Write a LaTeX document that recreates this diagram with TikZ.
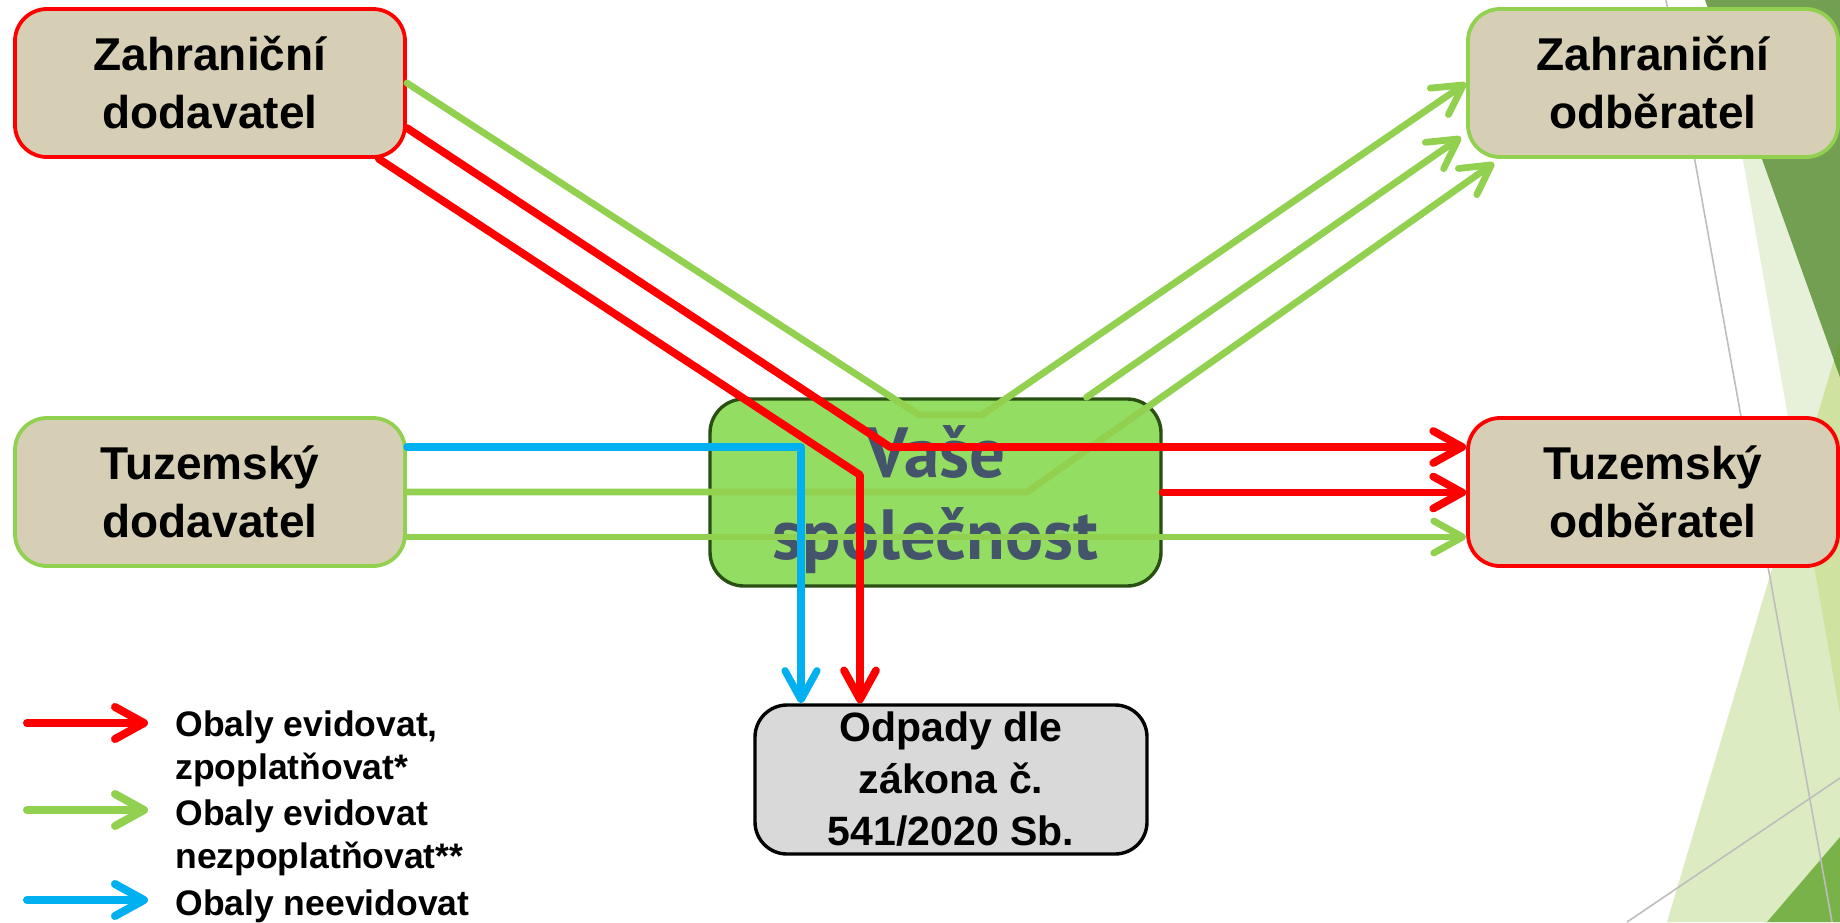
\documentclass[tikz,border=0pt]{standalone}
\usepackage{fontspec}
\setmainfont{Liberation Sans}
\newfontfamily\ptsans{PT Sans}
\usetikzlibrary{arrows.meta,calc}
\definecolor{cred}{HTML}{FF0000}
\definecolor{cgreen}{HTML}{92D050}
\definecolor{cblue}{HTML}{00B0F0}
\definecolor{beige}{HTML}{D6CFB6}
\definecolor{vsfill}{HTML}{94DD63}
\definecolor{vsborder}{HTML}{2A4F12}
\definecolor{vstext}{HTML}{44546A}
\definecolor{odfill}{HTML}{D9D9D9}
\definecolor{bgdark}{HTML}{729F51}
\definecolor{bglight}{HTML}{E7F0D8}
\definecolor{bgtri}{HTML}{DDEBC3}
\definecolor{bgover}{HTML}{CFE2A0}
\definecolor{bgmid}{HTML}{6C9E40}
\definecolor{bgbot}{HTML}{7AB24A}
\definecolor{bggrey}{HTML}{BDBDBD}
\tikzset{
  partybox/.style={draw, rounded corners=16pt, fill=beige, line width=1.9pt,
    minimum width=195pt, minimum height=74pt, inner sep=0pt, align=center,
    font=\bfseries\fontsize{23}{29}\selectfont},
  conn/.style={line width=3.6pt, line cap=round, line join=round,
    -{Straight Barb[length=14.5pt,width=16pt,round]}},
  rl/.style={conn, draw=cred, line width=3.9pt},
  gl/.style={conn, draw=cgreen, line width=3.4pt},
  bl/.style={conn, draw=cblue, line width=3.6pt},
  legtext/.style={anchor=base west, inner sep=0pt, font=\bfseries\fontsize{17.75}{22}\selectfont},
}
\begin{document}
\begin{tikzpicture}[x=0.5pt,y=-0.5pt]
\useasboundingbox (0,0) rectangle (1840,922);
% background decoration
\fill[bglight] (1715,0) -- (1840,0) -- (1840,714) -- cycle;
\fill[bgtri] (1840,340) -- (1667,922) -- (1840,922) -- cycle;
\begin{scope}
  \clip (1715,0) -- (1840,0) -- (1840,714) -- cycle;
  \fill[bgover] (1840,340) -- (1667,922) -- (1840,922) -- cycle;
\end{scope}
\fill[bgdark] (1705,0) -- (1840,0) -- (1840,377) -- cycle;
\begin{scope}
  \clip (1705,0) -- (1840,0) -- (1840,377) -- cycle;
  \fill[bgmid] (1840,340) -- (1667,922) -- (1840,922) -- cycle;
\end{scope}
\fill[bgbot] (1767,922) -- (1840,837) -- (1840,922) -- cycle;
\draw[bggrey, line width=0.8pt] (1666,0) -- (1832,922);
\draw[bggrey, line width=0.8pt] (1627,922) -- (1840,778);

% nodes
\node[partybox, draw=cred] (ZD) at (210,83) {Zahraniční\\dodavatel};
\node[partybox, draw=cgreen] (TD) at (210,492) {Tuzemský\\dodavatel};
\node[partybox, draw=cgreen, minimum width=185pt] (ZO) at (1653,83) {Zahraniční\\odběratel};
\node[partybox, draw=cred, minimum width=185pt] (TO) at (1653,492) {Tuzemský\\odběratel};
\node[draw=vsborder, fill=vsfill, rounded corners=17pt, line width=1.7pt,
  minimum width=225.5pt, minimum height=93.5pt, inner sep=0pt, align=center,
  text depth=0pt, text=vstext, font=\ptsans\bfseries\fontsize{35.5}{41}\selectfont]
  (VS) at (935.5,492.5) {Vaše\\společnost};
\node[draw=black, fill=odfill, rounded corners=16pt, line width=1.7pt,
  minimum width=196pt, minimum height=74.5pt, inner sep=0pt, align=center,
  font=\bfseries\fontsize{20.5}{26}\selectfont]
  (OD) at (951,779.5) {Odpady dle\\zákona č.\\541/2020 Sb.};

% bend points
\coordinate (g1a) at (919,415);
\coordinate (g1b) at (982,415);
\coordinate (r1a) at (890,447);
\coordinate (r2a) at (860,475);
\coordinate (b1a) at (801,447);
\coordinate (g3a) at (1027,492);

% connectors
\draw[gl] (ZD.east) -- (g1a) -- (g1b) -- (ZO.west);
\draw[gl] ($(VS.north)+(151,0)$) -- ($(ZO.west)+(-5,54)$);
\draw[gl] (TD.east) -- (g3a) -- ($(ZO.south west)+(28,4)$);
\draw[gl] ($(TD.east)+(0,45)$) -- ($(TO.west)+(0,45)$);
\draw[bl] ($(TD.east)+(0,-45)$) -- (b1a) -- (b1a |- OD.north);
\draw[rl] ($(ZD.south east)+(-28,0)$) -- (r2a) -- (r2a |- OD.north);
\draw[rl] ($(ZD.east)+(0,45)$) -- (r1a) -- ($(TO.west)+(0,-45)$);
\draw[rl] (VS.east) -- (VS.east -| TO.west);

% legend
\coordinate (lr0) at (27,723); \coordinate (lr1) at (148,723);
\coordinate (lg0) at (27,810); \coordinate (lg1) at (148,810);
\coordinate (lb0) at (27,900); \coordinate (lb1) at (148,900);
\draw[rl, line width=4pt] (lr0) -- (lr1);
\draw[gl, line width=4pt] (lg0) -- (lg1);
\draw[bl, line width=4pt] (lb0) -- (lb1);
\node[legtext] (L1) at (175,736) {Obaly evidovat,};
\node[legtext] (L2) at (175,779) {zpoplatňovat*};
\node[legtext] (L3) at (175,825) {Obaly evidovat};
\node[legtext] (L4) at (175,868) {nezpoplatňovat**};
\node[legtext] (L5) at (175,915) {Obaly neevidovat};
\end{tikzpicture}
\end{document}
